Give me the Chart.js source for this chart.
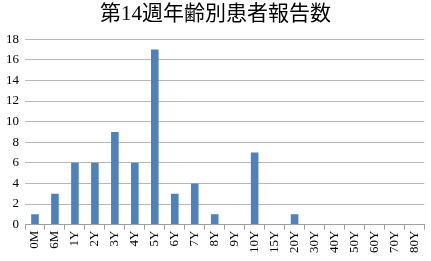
<!DOCTYPE html>
<html>
<head>
<meta charset="utf-8">
<script src="https://cdn.jsdelivr.net/npm/chart.js@4"></script>
<style>
  html, body { margin: 0; padding: 0; background: #fff; }
  #wrap { width: 431px; height: 261px; }
</style>
</head>
<body>
<div id="wrap"><canvas id="ageCh"></canvas></div>
<script>
let ages = ['0M', '6M', '1Y', '2Y', '3Y', '4Y', '5Y', '6Y', '7Y', '8Y', '9Y', '10Y', '15Y', '20Y', '30Y', '40Y', '50Y', '60Y', '70Y', '80Y']
let reports = [1, 3, 6, 6, 9, 6, 17, 3, 4, 1, 0, 7, 0, 1, 0, 0, 0, 0, 0, 0]
let yTicks = [0, 2, 4, 6, 8, 10, 12, 14, 16, 18]

const serif = '"Times New Roman", "DejaVu Serif", serif'

const ctx = document.getElementById('ageCh').getContext('2d')

const ageChart = new Chart(ctx, {
    type: 'bar',
    data: {
        labels: ages,
        datasets: [{
            label: '報告数',
            data: reports,
            backgroundColor: '#4f81bd',
            borderWidth: 0,
            barPercentage: 0.38,
            categoryPercentage: 1
        }]
    },
    options: {
        responsive: true,
        maintainAspectRatio: false,
        animation: false,
        layout: { padding: { left: 0, right: 0, top: 0, bottom: 7 } },
        plugins: {
            legend: { display: false },
            tooltip: { enabled: false },
            title: {
                display: true,
                text: '第14週年齢別患者報告数',
                color: '#000',
                font: { family: '"Times New Roman", "Noto Sans CJK JP", serif', size: 21, weight: 'normal' },
                padding: { top: 2, bottom: 12 }
            }
        },
        scales: {
            x: {
                grid: {
                    display: true,
                    drawOnChartArea: false,
                    drawTicks: true,
                    tickLength: 5,
                    offset: true,
                    color: '#a0a0a0'
                },
                border: { color: '#a0a0a0' },
                ticks: {
                    color: '#000',
                    font: { family: serif, size: 13 },
                    minRotation: 90,
                    maxRotation: 90,
                    autoSkip: false,
                    padding: 1
                }
            },
            y: {
                min: 0,
                max: 18,
                afterBuildTicks: function (axis) {
                    axis.ticks = yTicks.map(v => ({ value: v }))
                },
                grid: {
                    color: '#b8b8b8',
                    drawTicks: false
                },
                border: { display: false },
                ticks: {
                    color: '#000',
                    font: { family: serif, size: 13 },
                    padding: 6
                }
            }
        }
    }
})
</script>
</body>
</html>
